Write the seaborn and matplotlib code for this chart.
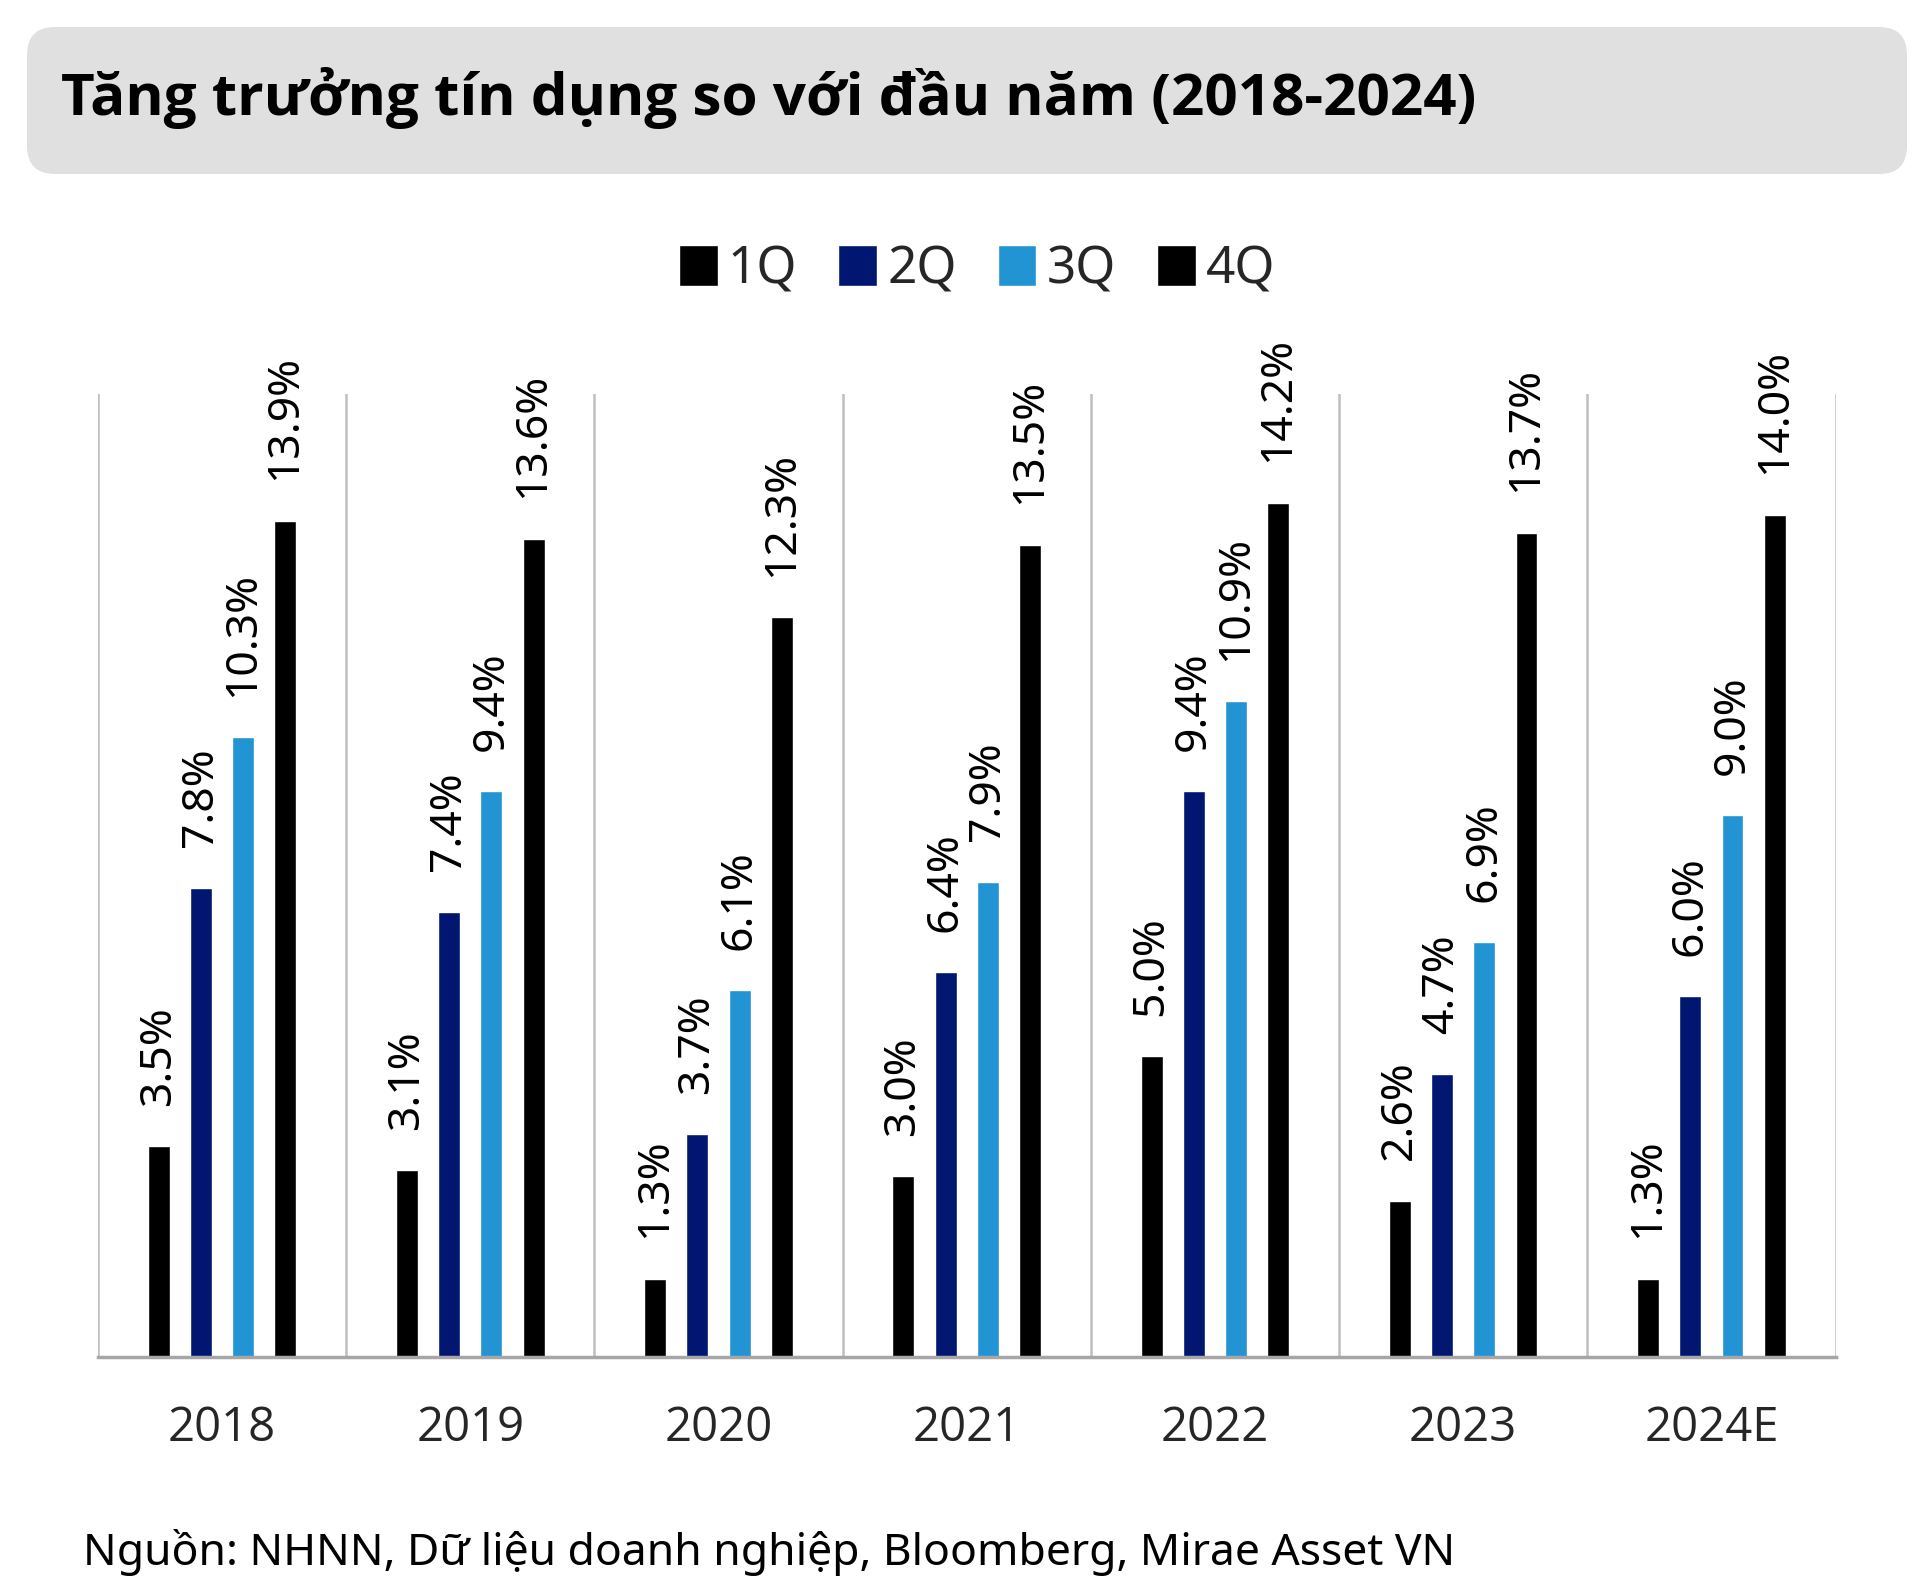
import pandas as pd
import matplotlib.pyplot as plt
import seaborn as sns
from matplotlib.patches import FancyBboxPatch
from matplotlib.transforms import IdentityTransform


years = ['2018', '2019', '2020', '2021', '2022', '2023', '2024E']
quarters = ['1Q', '2Q', '3Q', '4Q']

q1 = [3.5, 3.1, 1.3, 3.0, 5.0, 2.6, 1.3]
q2 = [7.8, 7.4, 3.7, 6.4, 9.4, 4.7, 6.0]
q3 = [10.3, 9.4, 6.1, 7.9, 10.9, 6.9, 9.0]
q4 = [13.9, 13.6, 12.3, 13.5, 14.2, 13.7, 14.0]

colors = ['#000000', '#001670', '#2394d3', '#000000']

title = 'Tăng trưởng tín dụng so với đầu năm (2018-2024)'
source = 'Nguồn: NHNN, Dữ liệu doanh nghiệp, Bloomberg, Mirae Asset VN'


# Long-form table for seaborn
rows = []
for q, vals in zip(quarters, [q1, q2, q3, q4]):
    for y, v in zip(years, vals):
        rows.append({'year': y, 'quarter': q, 'value': v})
df = pd.DataFrame(rows)


sns.set_style('white')
plt.rcParams['font.family'] = ['Noto Sans', 'DejaVu Sans']

fig = plt.figure(figsize=(19.2, 15.86), dpi=100)
ax = fig.add_axes([0.051, 0.1444, 0.905, 0.607])

sns.barplot(data=df, x='year', y='value', hue='quarter', order=years,
            hue_order=quarters, palette=colors, width=0.68, gap=0.48,
            saturation=1, ax=ax)

# Value labels above bars
for c in ax.containers:
    ax.bar_label(c, labels=[f'{v:.1f}%' for v in c.datavalues],
                 rotation=90, padding=29, fontsize=32, color='black')

ax.set_ylim(0, 16)
ax.set_xlim(-0.5, len(years) - 0.5)
ax.set_yticks([])
ax.set_xlabel('')
ax.set_ylabel('')

# Category separators
for i in range(len(years) + 1):
    ax.axvline(i - 0.5, color='#bfbfbf', lw=1.8, zorder=0)

for s in ['top', 'right', 'left']:
    ax.spines[s].set_visible(False)
ax.spines['bottom'].set_color('#a6a6a6')
ax.spines['bottom'].set_linewidth(2.5)
ax.tick_params(axis='x', length=0, pad=34)
for t in ax.get_xticklabels():
    t.set_fontsize(34)
    t.set_family(['Open Sans', 'DejaVu Sans'])
    t.set_fontweight('medium')

# Legend
handles, labels = ax.get_legend_handles_labels()
ax.legend_.remove()
fig.legend(handles, labels, loc='center', bbox_to_anchor=(0.509, 0.830),
           ncol=4, frameon=False, fontsize=37, handlelength=0.75,
           handleheight=0.85, handletextpad=0.2, columnspacing=0.8)

# Title box
box = FancyBboxPatch((27, 1412), 1880, 147,
                     boxstyle='round,pad=0,rounding_size=28',
                     transform=IdentityTransform(), facecolor='#e0e0e0',
                     edgecolor='none', zorder=0)
fig.add_artist(box)
fig.text(0.032, 0.938, title, fontsize=42, fontweight='bold', va='center',
         ha='left', color='black', family=['Open Sans', 'DejaVu Sans'])

fig.text(0.043, 0.021, source, fontsize=32, va='center', ha='left',
         color='black')

fig.savefig('out.png', dpi=100)
